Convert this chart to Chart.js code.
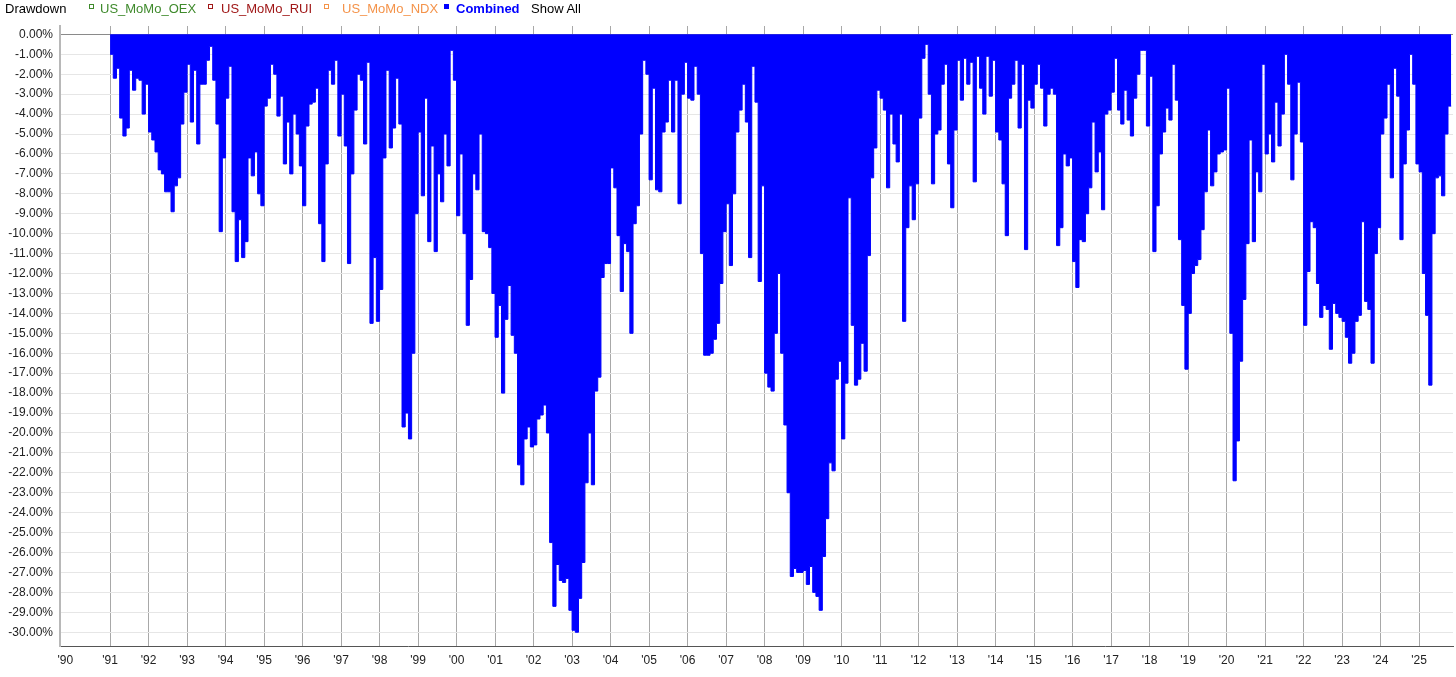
<!DOCTYPE html>
<html>
<head>
<meta charset="utf-8">
<title>Drawdown</title>
<script src="https://cdn.jsdelivr.net/npm/chart.js@4.4.1/dist/chart.umd.min.js"></script>
<style>
    html, body { margin: 0; padding: 0; background: #fff; }
    body { width: 1456px; height: 677px; position: relative; overflow: hidden; font-family: "Liberation Sans", Arial, sans-serif; }
    #chart { position: absolute; left: 0; top: 0; }
    .lg { position: absolute; top: 1px; font-size: 13px; line-height: 16px; white-space: nowrap; }
    .sq { position: absolute; top: 4px; width: 3px; height: 3px; border: 1px solid; background: #fff; }
</style>
</head>
<body>
<canvas id="chart" width="1456" height="677"></canvas>

<div class="lg" style="left:5px;color:#000;">Drawdown</div>
<div class="sq" style="left:89px;border-color:#3f8a2c;"></div>
<div class="lg" style="left:100px;color:#3f8a2c;">US_MoMo_OEX</div>
<div class="sq" style="left:208px;border-color:#a01818;"></div>
<div class="lg" style="left:221px;color:#a01818;">US_MoMo_RUI</div>
<div class="sq" style="left:324px;border-color:#f4934a;"></div>
<div class="lg" style="left:342px;color:#f4934a;">US_MoMo_NDX</div>
<div class="sq" style="left:444px;width:5px;height:5px;border:0;background:#0000ff;"></div>
<div class="lg" style="left:456px;color:#0000ff;font-weight:bold;">Combined</div>
<div class="lg" style="left:531px;color:#000;">Show All</div>

<script>
console.log("drawdown chart loaded");

// monthly drawdown of the combined series, in percent
const dd1990s = [
    -1.0, -2.2, -1.7, -4.2, -5.1, -4.7, -1.8, -2.8, -2.2, -2.3, -4.0, -2.5,   // 1991
    -4.9, -5.3, -5.9, -6.8, -7.0, -7.9, -7.9, -8.9, -7.6, -7.2, -4.5, -2.9,   // 1992
    -1.5, -4.4, -1.8, -5.5, -2.5, -2.5, -1.3, -0.6, -2.3, -4.5, -9.9, -6.2,   // 1993
    -3.2, -1.6, -8.9, -11.4, -9.3, -11.2, -10.4, -6.2, -7.1, -5.9, -8.0, -8.6, // 1994
    -3.6, -3.2, -1.5, -2.0, -4.1, -3.1, -6.5, -4.4, -7.0, -4.0, -5.0, -6.6,   // 1995
    -8.6, -4.6, -3.5, -3.4, -2.7, -9.5, -11.4, -6.5, -1.8, -2.5, -1.3, -5.1,  // 1996
    -3.0, -5.6, -11.5, -7.0, -3.8, -2.0, -2.3, -5.5, -1.4, -14.5, -11.2, -14.4, // 1997
    -12.8, -6.2, -1.8, -5.7, -4.7, -2.2, -4.5, -19.7, -19.0, -20.3, -16.0, -9.0, // 1998
    -4.9, -8.1, -3.2, -10.4, -5.6, -10.9, -7.0, -8.4, -5.0, -6.6, -0.8, -2.3  // 1999
];
const dd2000s = [
    -9.1, -6.0, -10.0, -14.6, -12.3, -7.0, -7.8, -5.0, -9.9, -10.0, -10.7, -13.0,     // 2000
    -15.2, -13.6, -18.0, -14.3, -12.6, -15.1, -16.0, -21.6, -22.6, -20.3, -19.7, -20.7, // 2001
    -20.6, -19.3, -19.1, -18.6, -20.0, -25.5, -28.7, -26.6, -27.4, -27.5, -27.3, -28.9, // 2002
    -29.9, -30.0, -28.3, -26.5, -22.5, -20.0, -22.6, -17.9, -17.2, -12.2, -11.5, -11.5, // 2003
    -6.7, -7.7, -10.1, -12.9, -10.5, -10.9, -15.0, -9.5, -8.6, -5.0, -1.3, -2.0,      // 2004
    -7.3, -2.7, -7.8, -7.9, -4.9, -4.4, -2.3, -4.9, -2.3, -8.5, -3.0, -1.4,           // 2005
    -3.2, -3.3, -1.6, -3.0, -11.0, -16.1, -16.1, -16.0, -15.3, -14.5, -12.5, -9.9,    // 2006
    -8.5, -11.6, -8.0, -4.9, -3.8, -2.5, -4.4, -11.2, -1.6, -3.4, -12.4, -7.6,        // 2007
    -17.0, -17.7, -17.9, -15.0, -12.0, -16.0, -19.6, -23.0, -27.2, -26.8, -27.0, -27.0, // 2008
    -26.9, -27.6, -26.7, -28.0, -28.2, -28.9, -26.2, -24.3, -21.5, -21.9, -17.3, -16.4  // 2009
];
const dd2010s = [
    -20.3, -17.5, -8.2, -14.6, -17.6, -17.3, -15.5, -16.9, -11.1, -7.2, -5.7, -2.8, // 2010
    -3.2, -3.8, -7.7, -4.0, -5.5, -6.4, -4.0, -14.4, -9.7, -7.6, -9.3, -7.5,        // 2011
    -4.2, -1.2, -0.5, -3.0, -7.5, -5.0, -4.8, -2.5, -1.5, -6.5, -8.7, -4.8,         // 2012
    -1.3, -3.3, -1.2, -2.5, -1.4, -7.4, -1.1, -2.7, -4.0, -1.1, -3.1, -1.3,         // 2013
    -4.9, -5.3, -7.5, -10.1, -3.2, -2.5, -1.3, -4.7, -1.5, -10.8, -3.3, -3.7,       // 2014
    -2.5, -1.5, -2.7, -4.6, -3.0, -2.7, -3.0, -10.6, -9.7, -6.0, -6.6, -6.2,        // 2015
    -11.4, -12.7, -10.3, -10.4, -9.0, -7.7, -4.4, -6.9, -5.9, -8.8, -4.0, -3.8,     // 2016
    -2.9, -1.2, -3.8, -4.5, -2.8, -4.3, -5.1, -3.2, -2.0, -0.8, -0.8, -4.6,         // 2017
    -2.1, -10.9, -8.6, -6.0, -4.9, -3.7, -4.3, -1.5, -3.3, -10.3, -13.6, -16.8,     // 2018
    -14.0, -12.0, -11.6, -11.3, -9.8, -7.9, -4.8, -7.6, -6.9, -6.0, -5.9, -5.8      // 2019
];
const dd2020s = [
    -2.7, -15.0, -22.4, -20.4, -16.4, -13.3, -10.5, -5.3, -10.4, -6.9, -7.9, -1.5,   // 2020
    -6.0, -5.0, -6.4, -3.4, -5.6, -4.0, -1.0, -2.5, -7.3, -5.0, -2.4, -5.4,          // 2021
    -14.6, -11.9, -9.4, -9.7, -12.5, -14.2, -13.6, -13.8, -15.8, -13.5, -14.0, -14.2, // 2022
    -14.4, -15.2, -16.5, -16.0, -14.4, -14.1, -9.4, -13.4, -13.8, -16.5, -11.0, -9.7, // 2023
    -5.0, -4.2, -2.5, -7.2, -1.7, -3.1, -10.3, -6.5, -4.8, -1.0, -2.5, -6.5,         // 2024
    -6.9, -12.0, -14.1, -17.6, -10.0, -7.2, -7.1, -8.1, -5.0, -3.6                   // 2025
];
const seriesStarts = [1991, 2000, 2010, 2020];

const xTickYears = [1991, 1992, 1993, 1994, 1995, 1996, 1997, 1998, 1999, 2000, 2001, 2002,
    2003, 2004, 2005, 2006, 2007, 2008, 2009, 2010, 2011, 2012, 2013, 2014, 2015, 2016,
    2017, 2018, 2019, 2020, 2021, 2022, 2023, 2024, 2025];
const xTickLabels = ["'90", "'91", "'92", "'93", "'94", "'95", "'96", "'97", "'98", "'99", "'00",
    "'01", "'02", "'03", "'04", "'05", "'06", "'07", "'08", "'09", "'10", "'11", "'12", "'13",
    "'14", "'15", "'16", "'17", "'18", "'19", "'20", "'21", "'22", "'23", "'24", "'25"];
const yTicks = [0, -1, -2, -3, -4, -5, -6, -7, -8, -9, -10, -11, -12, -13, -14, -15,
    -16, -17, -18, -19, -20, -21, -22, -23, -24, -25, -26, -27, -28, -29, -30];

const X_MIN = 1989.70, X_MAX = 2025.88;
const Y_MIN = -30.69, Y_MAX = 0.42;

function buildPoints() {
    const pts = [];
    [dd1990s, dd2000s, dd2010s, dd2020s].forEach((arr, k) => {
        arr.forEach((v, i) => pts.push({ x: seriesStarts[k] + i / 12, y: v }));
    });
    const last = pts[pts.length - 1];
    pts.push({ x: last.x + 1 / 12, y: last.y }); // close the last month
    return pts;
}

const tickFont = { family: "'Liberation Sans', Arial, sans-serif", size: 12 };

new Chart(document.getElementById('chart'), {
    type: 'line',
    data: {
        datasets: [{
            label: 'Combined',
            data: buildPoints(),
            stepped: true,
            fill: 'origin',
            backgroundColor: '#0000ff',
            borderColor: '#0000ff',
            borderWidth: 1,
            pointRadius: 0
        }]
    },
    options: {
        responsive: false,
        devicePixelRatio: 1,
        animation: false,
        layout: { padding: { top: 26, right: 3, left: 0, bottom: 0 } },
        plugins: { legend: { display: false }, tooltip: { enabled: false } },
        scales: {
            x: {
                type: 'linear',
                min: X_MIN,
                max: X_MAX,
                afterFit: s => { s.height = 31; },
                afterBuildTicks: s => {
                    // the first label sits just right of the axis start
                    s.ticks = [{ value: X_MIN + 0.14 }].concat(xTickYears.map(v => ({ value: v })));
                },
                ticks: {
                    autoSkip: false,
                    maxRotation: 0,
                    padding: 7,
                    color: '#222',
                    font: tickFont,
                    callback: (value, index) => xTickLabels[index]
                },
                grid: {
                    color: ctx => ctx.index === 0 ? 'rgba(0,0,0,0)' : '#a8a8a8',
                    lineWidth: 1,
                    drawTicks: false
                },
                border: { color: '#555', width: 1 }
            },
            y: {
                min: Y_MIN,
                max: Y_MAX,
                afterFit: s => { s.width = 60; },
                afterBuildTicks: s => {
                    s.ticks = yTicks.map(v => ({ value: v }));
                },
                ticks: {
                    padding: 7,
                    color: '#222',
                    font: tickFont,
                    callback: v => v.toFixed(2) + '%'
                },
                grid: {
                    color: ctx => (ctx.tick && ctx.tick.value === 0) ? '#8a8a8a' : '#e6e6e6',
                    lineWidth: 1,
                    drawTicks: false
                },
                border: { color: '#b8b8b8', width: 2 }
            }
        }
    }
});
</script>
</body>
</html>
